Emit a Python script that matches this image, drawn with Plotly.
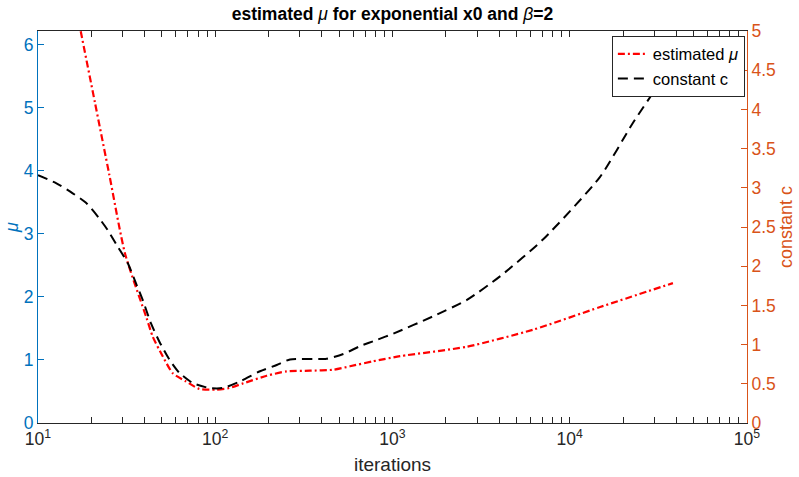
import plotly.graph_objects as go

# estimated mu (left axis)
mu_iter = [15, 17.41, 20.97, 25.25, 30.96, 41.05, 44.37, 50.52, 57.54, 68.39, 81.28, 101, 120, 144,
           195.1, 253, 342.4, 463.4, 575.6, 779.4, 1102, 2630, 6200, 14830, 38200]
mu_val = [7.15, 6.22, 5.08, 3.94, 2.69, 1.66, 1.37, 1.06, 0.79, 0.66, 0.54, 0.53, 0.555, 0.63,
          0.75, 0.82, 0.83, 0.845, 0.90, 0.98, 1.06, 1.21, 1.48, 1.84, 2.22]

# constant c (right axis)
c_iter = [10, 12.64, 15.70, 18.66, 22.17, 24.74, 28.17, 32.07, 35.72, 38.96, 43.41, 48.34, 55.06, 62.69,
          74.63, 92.55, 110.2, 137.9, 178.8, 222.2, 264.1, 425.5, 527.8, 655.5, 814.4, 1010, 1691, 2630,
          4040, 7060, 14830, 22750, 33600, 38200]
c_val = [3.16, 3.06, 2.93, 2.81, 2.61, 2.46, 2.25, 2.04, 1.78, 1.57, 1.27, 1.04, 0.81, 0.64,
         0.51, 0.446, 0.446, 0.53, 0.66, 0.74, 0.81, 0.82, 0.88, 0.98, 1.06, 1.14, 1.36, 1.57,
         1.87, 2.34, 3.14, 3.83, 4.40, 4.59]

x_ticks = [10, 100, 1000, 10000, 100000]
x_ticktext = ["10<sup>1</sup>", "10<sup>2</sup>", "10<sup>3</sup>", "10<sup>4</sup>", "10<sup>5</sup>"]
mu_ticks = [0, 1, 2, 3, 4, 5, 6]
c_ticks = [0, 0.5, 1, 1.5, 2, 2.5, 3, 3.5, 4, 4.5, 5]
c_ticktext = ["0", "0.5", "1", "1.5", "2", "2.5", "3", "3.5", "4", "4.5", "5"]

BLUE = "#0072BD"
ORANGE = "#D95319"
FONT = "Liberation Sans, Arial, sans-serif"

fig = go.Figure()
fig.add_trace(go.Scatter(x=mu_iter, y=mu_val, mode="lines", name="estimated <i>μ</i>",
                         line=dict(color="#FF0000", width=2.2, dash="7px,3px,2px,3px",
                                   shape="spline", smoothing=0.6),
                         yaxis="y"))
fig.add_trace(go.Scatter(x=c_iter, y=c_val, mode="lines", name="constant c",
                         line=dict(color="#000000", width=2, dash="10px,6px",
                                   shape="spline", smoothing=0.6),
                         yaxis="y2"))

fig.update_layout(
    width=799, height=477,
    margin=dict(l=38, r=52, t=31, b=54),
    paper_bgcolor="white", plot_bgcolor="white",
    font=dict(family=FONT, size=17, color="#262626"),
    title=dict(text="<b>estimated </b><i>μ</i><b> for exponential x0 and </b><i>β</i><b>=2</b>",
               x=(38 + 747) / 2 / 799, xanchor="center", y=1 - 14 / 477, yanchor="middle",
               font=dict(size=17.5, color="#000000")),
    showlegend=True,
    legend=dict(x=0.997, xanchor="right", y=0.988, yanchor="top",
                bgcolor="white", bordercolor="#262626", borderwidth=1,
                font=dict(size=16.5, color="#000000"),
                tracegroupgap=0, itemwidth=30),
    xaxis=dict(type="log", range=[1, 5], tickvals=x_ticks, ticktext=x_ticktext,
               ticks="inside", ticklen=6, tickcolor="#262626", showgrid=False, zeroline=False,
               showline=True, linecolor="#262626", linewidth=1, mirror="allticks",
               tickfont=dict(size=17.5, color="#262626"), automargin=False,
               minor=dict(ticks="inside", ticklen=3.5, dtick="D1", tickcolor="#262626", showgrid=False),
               title=dict(text="iterations", font=dict(size=19, color="#262626"), standoff=9)),
    yaxis=dict(range=[0, 6.22], tickvals=mu_ticks, ticks="inside", ticklen=6,
               tickcolor=BLUE, showgrid=False, zeroline=False,
               showline=True, linecolor=BLUE, linewidth=1, automargin=False,
               tickfont=dict(size=17.5, color=BLUE),
               title=dict(text="<i>μ</i>", font=dict(size=18, color=BLUE), standoff=0)),
    yaxis2=dict(range=[0, 5], tickvals=c_ticks, ticktext=c_ticktext, overlaying="y", side="right",
                ticks="inside", ticklen=6, tickcolor=ORANGE, showgrid=False, zeroline=False,
                showline=True, linecolor=ORANGE, linewidth=1, automargin=False,
                tickfont=dict(size=17.5, color=ORANGE),
                title=dict(text="constant c", font=dict(size=18, color=ORANGE), standoff=2)),
)

fig.write_html("out.html")
